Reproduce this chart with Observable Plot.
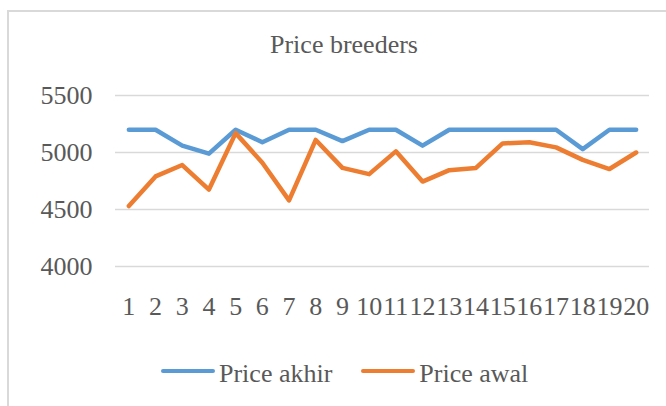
<!DOCTYPE html>
<html>
<head>
<meta charset="utf-8">
<script src="https://cdn.jsdelivr.net/npm/d3@7"></script>
<script src="https://cdn.jsdelivr.net/npm/@observablehq/plot@0.6"></script>
<style>
  html, body { margin: 0; padding: 0; background: #fff; }
  #wrap { position: relative; width: 666px; height: 406px; overflow: hidden; background: #fff; }
  #border { position: absolute; left: 7px; top: 10px; width: 720px; height: 520px; border: 2px solid #d9d9d9; box-sizing: border-box; }
  #chart { position: absolute; left: 0; top: 0; }
  #title { position: absolute; left: 0; width: 688px; top: 32px; text-align: center; font-family: "Liberation Serif", "Times New Roman", Tinos, "DejaVu Serif", serif; font-size: 26px; line-height: 26px; color: #595959; white-space: nowrap; }
  #legend { position: absolute; left: 161px; top: 361px; display: flex; align-items: center; font-family: "Liberation Serif", "Times New Roman", Tinos, "DejaVu Serif", serif; font-size: 26px; line-height: 26px; color: #595959; white-space: nowrap; }
  .sw { display: inline-block; width: 54px; height: 4px; border-radius: 2px; margin-right: 4px; position: relative; top: -3px; }
  .item { display: flex; align-items: center; }
</style>
</head>
<body>
<div id="wrap">
  <div id="border"></div>
  <div id="chart"></div>
  <div id="title">Price breeders</div>
  <div id="legend"></div>
</div>
<script>
const days = d3.range(1, 21);
const seriesNames = ["Price akhir", "Price awal"];
const seriesColors = ["#5b9bd5", "#ed7d31"];
const priceAkhir = [5200, 5200, 5060, 4990, 5200, 5090, 5200, 5200, 5100, 5200, 5200, 5060, 5200, 5200, 5200, 5200, 5200, 5030, 5200, 5200];
const priceAwal  = [4530, 4790, 4890, 4675, 5170, 4910, 4580, 5110, 4865, 4810, 5010, 4745, 4845, 4865, 5080, 5090, 5045, 4935, 4855, 5000];
const yTicks = [4000, 4500, 5000, 5500];

const rows = [];
days.forEach((d, i) => {
  rows.push({day: d, value: priceAkhir[i], series: seriesNames[0]});
  rows.push({day: d, value: priceAwal[i], series: seriesNames[1]});
});

const chart = Plot.plot({
  width: 666,
  height: 406,
  marginLeft: 115,
  marginRight: 17,
  marginTop: 95,
  marginBottom: 140,
  style: {fontFamily: "'Liberation Serif', 'Times New Roman', Tinos, 'DejaVu Serif', serif", fontSize: "26px", color: "#595959", background: "transparent", overflow: "visible"},
  x: {type: "point", domain: days, padding: 0.5, round: false},
  y: {domain: [4000, 5500], ticks: yTicks},
  color: {domain: seriesNames, range: seriesColors},
  marks: [
    Plot.ruleY(yTicks, {stroke: "#d9d9d9", strokeWidth: 1.5}),
    Plot.axisY({ticks: yTicks, tickSize: 0, tickPadding: 23, label: null, tickFormat: d => String(d)}),
    Plot.axisX({tickSize: 0, tickPadding: 30, label: null}),
    Plot.line(rows, {x: "day", y: "value", z: "series", stroke: "series", strokeWidth: 4.5, strokeLinejoin: "round", strokeLinecap: "round"})
  ]
});
document.getElementById("chart").appendChild(chart);

const legend = document.getElementById("legend");
seriesNames.forEach((name, i) => {
  const item = document.createElement("div");
  item.className = "item";
  if (i > 0) item.style.marginLeft = "29px";
  const sw = document.createElement("span");
  sw.className = "sw";
  sw.style.background = seriesColors[i];
  const t = document.createElement("span");
  t.textContent = name;
  item.appendChild(sw);
  item.appendChild(t);
  legend.appendChild(item);
});
</script>
</body>
</html>
